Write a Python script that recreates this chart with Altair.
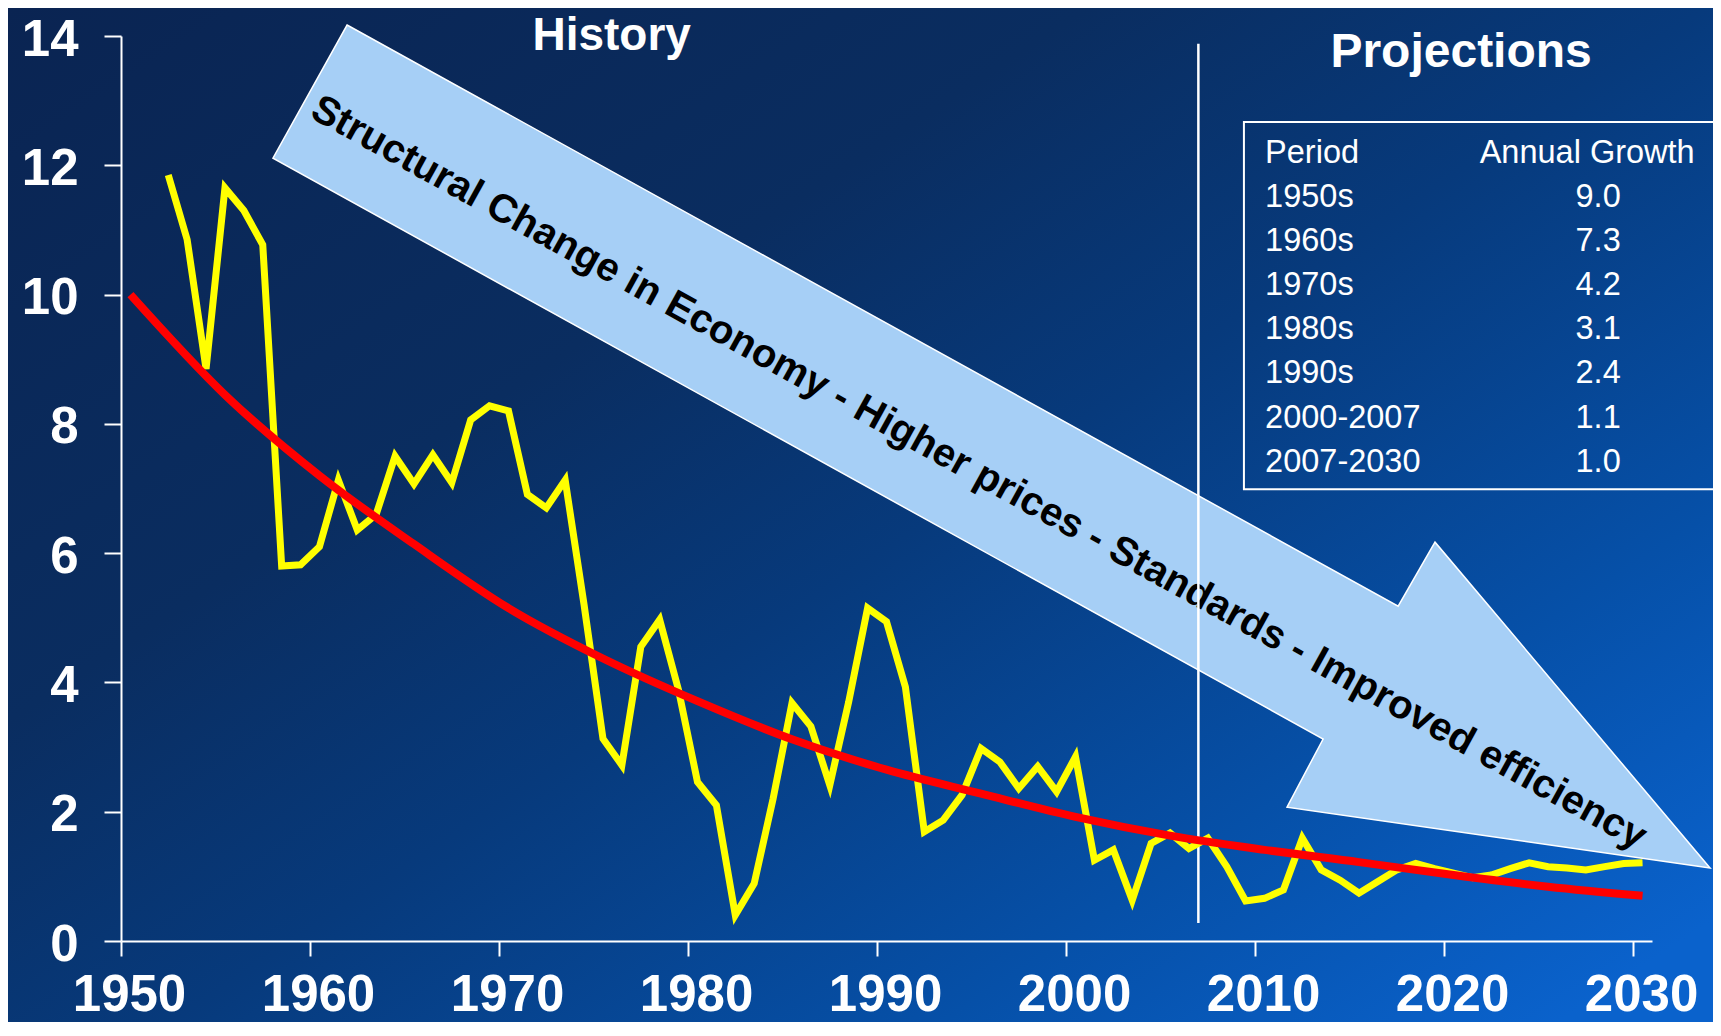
import altair as alt
import pandas as pd

FONT = "Liberation Sans"

# ---------------- data ----------------
years = list(range(1952, 2031))
growth = [11.85, 10.85, 8.85, 11.65, 11.3, 10.77, 5.8, 5.82, 6.1, 7.13,
          6.36, 6.6, 7.5, 7.07, 7.52, 7.09, 8.06, 8.28, 8.2, 6.91,
          6.7, 7.13, 5.2, 3.13, 2.72, 4.55, 4.97, 3.88, 2.46, 2.1,
          0.4, 0.89, 2.2, 3.68, 3.32, 2.41, 3.7, 5.15, 4.94, 3.93,
          1.69, 1.87, 2.26, 2.98, 2.77, 2.36, 2.7, 2.31, 2.85, 1.25,
          1.41, 0.63, 1.51, 1.67, 1.43, 1.59, 1.15, 0.62, 0.66, 0.79,
          1.59, 1.1, 0.94, 0.74, 0.92, 1.1, 1.2, 1.12, 1.05, 0.98,
          1.02, 1.12, 1.21, 1.15, 1.13, 1.1, 1.15, 1.2, 1.21]

trend_years = list(range(1950, 2031, 5))
trend = [10.0, 8.45, 7.2, 6.14, 5.15, 4.37, 3.71, 3.12, 2.65, 2.28,
         1.92, 1.63, 1.41, 1.22, 1.02, 0.84, 0.70]

x_ticks = list(range(1950, 2031, 10))
y_ticks = list(range(0, 15, 2))

periods = ["1950s", "1960s", "1970s", "1980s", "1990s", "2000-2007", "2007-2030"]
rates = ["9.0", "7.3", "4.2", "3.1", "2.4", "1.1", "1.0"]

arrow_label = "Structural Change in Economy - Higher prices - Standards - Improved efficiency"
# arrow outline (in data units: year, value)
arrow_x = [1961.96, 2017.57, 2019.52, 2034.07, 2011.69, 2013.6, 1958.04]
arrow_y = [14.17, 5.18, 6.17, 1.13, 2.07, 3.125, 12.11]

split_year = 2007

# ---------------- layout ----------------
W, H = 1531, 905
PAD = {"left": 113, "top": 28, "right": 61, "bottom": 81}

xsc = alt.Scale(domain=[1950, 2031], nice=False, zero=False)
ysc = alt.Scale(domain=[0, 14], nice=False, zero=True)

common_axis = dict(
    title=None, grid=False, domainColor="white", domainWidth=2,
    tickColor="white", tickWidth=2, labelColor="white", labelFont=FONT,
    labelFontSize=51, labelFontWeight="bold", labelFlush=False,
    labelOverlap=False, zindex=2,
)
xax = alt.Axis(values=x_ticks, format="d", tickSize=15, labelPadding=14,
               labelOffset=8, **common_axis)
yax = alt.Axis(values=y_ticks, format="d", tickSize=17, labelPadding=26,
               labelOffset=4, **common_axis)


def X(f):
    return alt.X(f"{f}:Q", scale=xsc, axis=xax)


def Y(f):
    return alt.Y(f"{f}:Q", scale=ysc, axis=yax)


# background gradient
bg = alt.Chart(pd.DataFrame({"k": [0]})).mark_rect(
    fill=alt.Gradient(
        gradient="linear", x1=0, y1=0, x2=1, y2=0.9,
        stops=[alt.GradientStop(color="#0a2452", offset=0),
               alt.GradientStop(color="#0a2d60", offset=0.35),
               alt.GradientStop(color="#073a7c", offset=0.55),
               alt.GradientStop(color="#0650a8", offset=0.8),
               alt.GradientStop(color="#0a62cc", offset=1)],
    )
).encode(
    x=alt.value(-PAD["left"]), x2=alt.value(W + PAD["right"]),
    y=alt.value(-PAD["top"]), y2=alt.value(H + PAD["bottom"]),
)

# arrow
arrow_df = pd.DataFrame({"ax": arrow_x, "ay": arrow_y, "i": range(len(arrow_x))})
arrow = alt.Chart(arrow_df).mark_line(
    interpolate="linear-closed", fill="#a6cff6", stroke="white",
    strokeWidth=1.5, strokeJoin="miter",
).encode(x=X("ax"), y=Y("ay"), order="i:Q")

arrow_txt = alt.Chart(pd.DataFrame({"tx": [1995.38], "ty": [7.24], "t": [arrow_label]})).mark_text(
    angle=28.9, font=FONT, fontSize=40, fontWeight="bold", color="black",
    align="center", baseline="middle",
).encode(x=X("tx"), y=Y("ty"), text="t:N")

# vertical divider history / projections
rule = alt.Chart(pd.DataFrame({"rx": [split_year], "r1": [0.28], "r2": [13.88]})).mark_rule(
    color="white", strokeWidth=2.5
).encode(x=X("rx"), y=Y("r1"), y2="r2:Q")

# series
ydf = pd.DataFrame({"year": years, "growth": growth})
yellow = alt.Chart(ydf).transform_calculate(xp="datum.year + 0.5").mark_line(
    color="#ffff00", strokeWidth=7
).encode(x=X("xp"), y=Y("growth"))

rdf = pd.DataFrame({"year": trend_years, "trend": trend})
red = alt.Chart(rdf).transform_calculate(xp="datum.year + 0.5").mark_line(
    color="#ff0000", strokeWidth=8, interpolate="monotone"
).encode(x=X("xp"), y=Y("trend"))

# headings
heads = pd.DataFrame({"hx": [1975.96, 2020.9], "hy": [13.78, 13.52],
                      "t": ["History", "Projections"], "fs": [46, 48]})
head_txt = alt.Chart(heads).mark_text(
    font=FONT, fontWeight="bold", color="white",
    align="center", baseline="alphabetic",
).encode(x=X("hx"), y=Y("hy"), text="t:N",
         size=alt.Size("fs:Q", scale=None, legend=None))

# growth table
box = alt.Chart(pd.DataFrame({"bx": [2009.41], "bx2": [2035.0], "by": [12.67], "by2": [6.99]})).mark_rect(
    fillOpacity=0, stroke="white", strokeWidth=2
).encode(x=X("bx"), x2="bx2:Q", y=Y("by"), y2="by2:Q")

table_top = 12.04
row_step = 0.683
tbl = pd.DataFrame({"period": periods, "rate": rates, "row": range(1, len(periods) + 1)})
tbl_base = alt.Chart(tbl).transform_calculate(
    ty=f"{table_top} - datum.row * {row_step}", cx1="2010.53", cx2="2028.15"
)
TFS = 32.5
col1 = tbl_base.mark_text(font=FONT, fontSize=TFS, color="white", align="left",
                          baseline="alphabetic").encode(x=X("cx1"), y=Y("ty"), text="period:N")
col2 = tbl_base.mark_text(font=FONT, fontSize=TFS, color="white", align="center",
                          baseline="alphabetic").encode(x=X("cx2"), y=Y("ty"), text="rate:N")

hdr1 = alt.Chart(pd.DataFrame({"hx": [2010.53], "hy": [table_top], "t": ["Period"]})).mark_text(
    font=FONT, fontSize=TFS, color="white", align="left", baseline="alphabetic"
).encode(x=X("hx"), y=Y("hy"), text="t:N")
hdr2 = alt.Chart(pd.DataFrame({"hx": [2027.57], "hy": [table_top], "t": ["Annual Growth"]})).mark_text(
    font=FONT, fontSize=TFS, color="white", align="center", baseline="alphabetic"
).encode(x=X("hx"), y=Y("hy"), text="t:N")

chart = alt.layer(
    bg, arrow, arrow_txt, rule, yellow, red, head_txt, box, col1, col2, hdr1, hdr2
).properties(
    width=W, height=H, padding=PAD,
    autosize=alt.AutoSizeParams(type="none"),
    background="#0a3a80",
).configure_view(strokeWidth=0)

chart.save("out.html", embed_options={"renderer": "svg", "actions": False})
